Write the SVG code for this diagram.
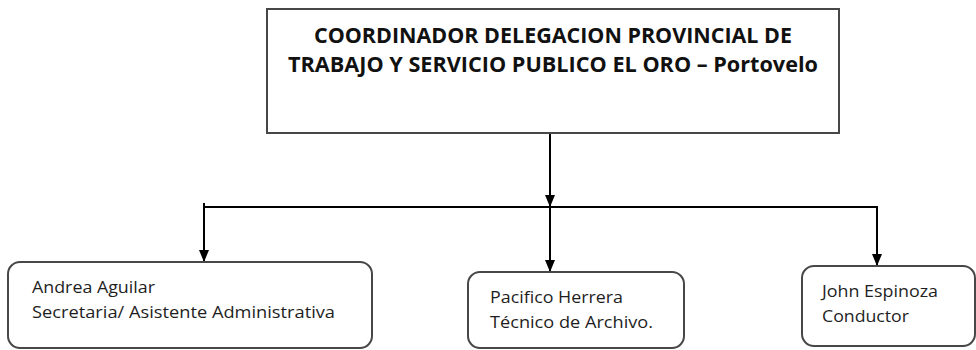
<svg xmlns="http://www.w3.org/2000/svg" width="976" height="350" viewBox="0 0 976 350">
  <style>
    .box { fill: #ffffff; stroke: #474747; stroke-width: 2; }
    .title { font-family: "Open Sans", "Liberation Sans", sans-serif; font-weight: bold; font-size: 21px; fill: #111111; text-anchor: middle; }
    .label { font-family: "Open Sans", "Liberation Sans", sans-serif; font-size: 17px; fill: #1e1e1e; }
    .conn { fill: none; stroke: #000000; stroke-width: 2; }
  </style>
  <defs>
    <marker id="arrow" viewBox="0 0 12 10" refX="12" refY="5" markerWidth="12" markerHeight="10" markerUnits="userSpaceOnUse" orient="auto">
      <path d="M0,0 L12,5 L0,10 Z" fill="#000000"/>
    </marker>
  </defs>
  <rect width="976" height="350" fill="#ffffff"/>

  <g id="connectors">
    <line class="conn" x1="203" y1="207" x2="878" y2="207"/>
    <line class="conn" x1="550" y1="133" x2="550" y2="207" marker-end="url(#arrow)"/>
    <line class="conn" x1="204" y1="203" x2="204" y2="262" marker-end="url(#arrow)"/>
    <line class="conn" x1="550" y1="207" x2="550" y2="272" marker-end="url(#arrow)"/>
    <line class="conn" x1="877" y1="207" x2="877" y2="266" marker-end="url(#arrow)"/>
  </g>

  <g id="coordinador">
    <rect class="box" x="267" y="9" width="572" height="124"/>
    <text class="title" x="553" y="43" textLength="478" lengthAdjust="spacingAndGlyphs">COORDINADOR DELEGACION PROVINCIAL DE</text>
    <text class="title" x="553" y="72" textLength="530" lengthAdjust="spacingAndGlyphs">TRABAJO Y SERVICIO PUBLICO EL ORO – Portovelo</text>
  </g>

  <g id="andrea">
    <rect class="box" x="8" y="262" width="364" height="86" rx="12" ry="12"/>
    <text class="label" x="32" y="293" textLength="123" lengthAdjust="spacingAndGlyphs">Andrea Aguilar</text>
    <text class="label" x="32" y="318" textLength="303" lengthAdjust="spacingAndGlyphs">Secretaria/ Asistente Administrativa</text>
  </g>

  <g id="pacifico">
    <rect class="box" x="468" y="272" width="216" height="76" rx="12" ry="12"/>
    <text class="label" x="490" y="303" textLength="133" lengthAdjust="spacingAndGlyphs">Pacifico Herrera</text>
    <text class="label" x="490" y="328" textLength="163" lengthAdjust="spacingAndGlyphs">Técnico de Archivo.</text>
  </g>

  <g id="john">
    <rect class="box" x="802" y="266" width="173" height="80" rx="12" ry="12"/>
    <text class="label" x="822" y="297" textLength="116" lengthAdjust="spacingAndGlyphs">John Espinoza</text>
    <text class="label" x="822" y="322" textLength="87" lengthAdjust="spacingAndGlyphs">Conductor</text>
  </g>
</svg>
